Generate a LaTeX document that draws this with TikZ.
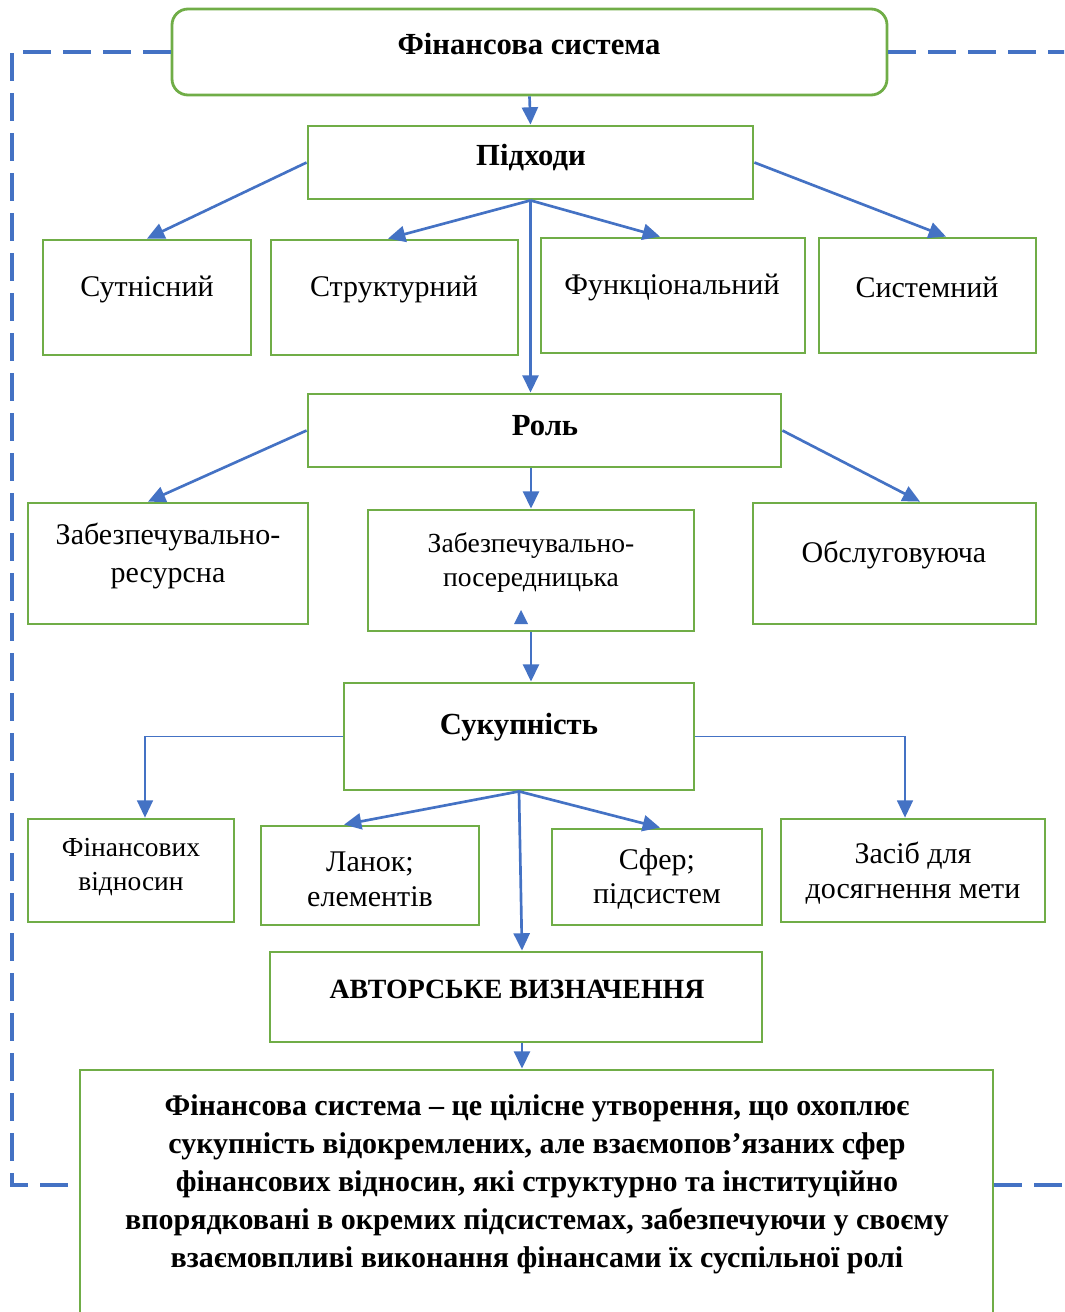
\documentclass[tikz,border=0pt]{standalone}
\usepackage{fontspec}
\setmainfont{Liberation Serif}
\usepackage{tikz}
\usetikzlibrary{fit}
\usetikzlibrary{arrows.meta}

\begin{document}
\begin{tikzpicture}[x=0.75pt,y=-0.75pt,
   box/.style={
      draw=boxgreen,
      line width = 2.1pt,
      inner sep = 0pt
   },
   txt/.style={
      align=center,
      inner sep = 0pt,
      font=\fontsize{22.5}{29}\selectfont
   },
   bold/.style={
      txt,
      font=\fontsize{23}{29}\selectfont\bfseries
   },
   link/.style={
      draw=arrowblue,
      line width = 2pt,
      -{Triangle[length=13pt,width=12pt]}
   },
   dashline/.style={
      draw=arrowblue,
      line width = 2.8pt,
      dash pattern=on 21pt off 9pt
   }]
   \definecolor{boxgreen}{HTML}{70AD47}
   \definecolor{arrowblue}{HTML}{4472C4}
   \useasboundingbox (0,0) rectangle (1064,1312);
   \clip (0,0) rectangle (1064,1312);

   % boxes
   \node[box, rounded corners=12pt, fit={(172,9) (887,95)}] (fin) {};
   \node[box, fit={(308,126) (753,199)}] (pid) {};
   \node[box, fit={(43,240) (251,355)}] (sut) {};
   \node[box, fit={(271,240) (518,355)}] (str) {};
   \node[box, fit={(541,238) (805,353)}] (fun) {};
   \node[box, fit={(819,238) (1036,353)}] (sys) {};
   \node[box, fit={(308,394) (781,467)}] (rol) {};
   \node[box, fit={(28,503) (308,624)}] (zr) {};
   \node[box, fit={(368,510) (694,631)}] (zp) {};
   \node[box, fit={(753,503) (1036,624)}] (obs) {};
   \node[box, fit={(344,683) (694,790)}] (suk) {};
   \node[box, fit={(28,819) (234,922)}] (fv) {};
   \node[box, fit={(261,826) (479,925)}] (lan) {};
   \node[box, fit={(552,829) (762,925)}] (sfer) {};
   \node[box, fit={(781,819) (1045,922)}] (zas) {};
   \node[box, fit={(270,952) (762,1042)}] (avt) {};
   \node[box, fit={(80,1070) (993,1340)}] (def) {};

   % texts
   \node[bold] (tfin) at (529,44) {Фінансова система};
   \node[bold] (tpid) at (531,158) {Підходи};
   \node[txt] (tsut) at (147,289) {Сутнісний};
   \node[txt] (tstr) at (394,289) {Структурний};
   \node[txt] (tfun) at (672,287) {Функціональний};
   \node[txt] (tsys) at (927,287) {Системний};
   \node[bold] (trol) at (545,426) {Роль};
   \node[txt] (tzr) at (168,556) {Забезпечувально-\\ресурсна};
   \node[txt, font=\fontsize{20.7}{25.5}\selectfont] (tzp) at (531,563) {Забезпечувально-\\посередницька};
   \node[txt] (tobs) at (894,555) {Обслуговуюча};
   \node[bold] (tsuk) at (519,727) {Сукупність};
   \node[txt, font=\fontsize{20.6}{26}\selectfont] (tfv) at (131,867) {Фінансових\\відносин};
   \node[txt, font=\fontsize{22.5}{26}\selectfont] (tlan) at (370,879) {Ланок;\\елементів};
   \node[txt, font=\fontsize{22.5}{26}\selectfont] (tsfer) at (657,879) {Сфер;\\підсистем};
   \node[txt, font=\fontsize{22.5}{26}\selectfont] (tzas) at (913,873) {Засіб для\\досягнення мети};
   \node[bold, font=\fontsize{20.9}{26}\selectfont\bfseries] (tavt) at (517,989) {АВТОРСЬКЕ ВИЗНАЧЕННЯ};
   \node[bold, font=\fontsize{22.5}{28.5}\selectfont\bfseries] (tdef) at (537,1184) {Фінансова система – це цілісне утворення, що охоплює\\
      сукупність відокремлених, але взаємопов’язаних сфер\\
      фінансових відносин, які структурно та інституційно\\
      впорядковані в окремих підсистемах, забезпечуючи у своєму\\
      взаємовпливі виконання фінансами їх суспільної ролі};

   % connectors
   \draw[link] (fin.south) -- (pid.north);
   \draw[link] (pid.west) -- (sut.north);
   \draw[link] (pid.south) -- (388,0 |- str.north);
   \draw[link] (pid.south) -- (660,0 |- fun.north);
   \draw[link] (pid.east) -- (946,0 |- sys.north);
   \draw[link] (pid.south) -- (pid.south |- rol.north);

   \draw[link] (rol.west) -- (148,0 |- zr.north);
   \draw[link] (zp.north |- rol.south) -- (zp.north);
   \draw[link] (rol.east) -- (920,0 |- obs.north);
   \draw[link] (zp.south) -- (zp.south |- suk.north);
   \fill[arrowblue] (514,624) -- (521,610) -- (528,624) -- cycle;

   \draw[link, line width=1.3pt] (suk.west) -| (145,0 |- fv.north);
   \draw[link, line width=1.3pt] (suk.east) -| (905,0 |- zas.north);
   \draw[link] (suk.south) -- (344,0 |- lan.north);
   \draw[link] (suk.south) -- (660,0 |- sfer.north);
   \draw[link] (suk.south) -- (522,0 |- avt.north);
   \draw[link] (522,0 |- avt.south) -- (522,0 |- def.north);

   % dashed frame
   \coordinate (dl) at (12,1185);
   \coordinate (re) at (1070,0);
   \draw[dashline] (fin.west) -| (dl) -- (dl -| def.west);
   \draw[dashline] (fin.east) -- (fin.east -| re);
   \draw[dashline] (def.east |- dl) -- (re |- dl);
\end{tikzpicture}
\end{document}
